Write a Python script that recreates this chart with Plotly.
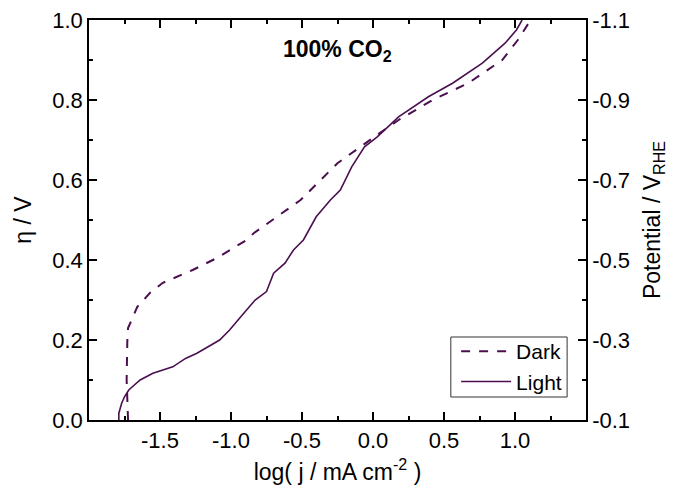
import plotly.graph_objects as go

# Dark (dashed) curve: log j vs overpotential
dark_logj = [-1.725, -1.73, -1.735, -1.73, -1.725, -1.70, -1.66, -1.57, -1.48, -1.27, -1.10, -0.89, -0.84,
             -0.51, -0.25, 0.01, 0.18, 0.42, 0.67, 0.91, 1.02, 1.11]
dark_eta = [0.0, 0.05, 0.1, 0.2, 0.23, 0.25, 0.283, 0.318, 0.343, 0.375, 0.405, 0.45, 0.467,
            0.55, 0.642, 0.708, 0.75, 0.8, 0.842, 0.9, 0.95, 1.0]

# Light (solid) curve
light_logj = [-1.79, -1.79, -1.77, -1.75, -1.72, -1.64, -1.55, -1.41, -1.32, -1.24, -1.08, -1.01,
              -0.91, -0.83, -0.75, -0.70, -0.62, -0.56, -0.49, -0.44, -0.40, -0.30, -0.23,
              -0.15, -0.06, 0.03, 0.18, 0.39, 0.56, 0.77, 0.93, 1.01, 1.05]
light_eta = [0.0, 0.017, 0.042, 0.058, 0.075, 0.1, 0.117, 0.133, 0.154, 0.167, 0.2, 0.225,
             0.267, 0.3, 0.321, 0.367, 0.392, 0.425, 0.45, 0.483, 0.508, 0.55, 0.575,
             0.633, 0.683, 0.708, 0.758, 0.808, 0.842, 0.892, 0.942, 0.975, 1.0]

x_ticks = [-1.5, -1.0, -0.5, 0.0, 0.5, 1.0]
y_ticks = [0.0, 0.2, 0.4, 0.6, 0.8, 1.0]
y2_ticks = [-0.1, -0.3, -0.5, -0.7, -0.9, -1.1]

color = "#4B0F50"
family = "Liberation Sans, Arial, sans-serif"
tick_font = dict(family=family, size=22, color="black")
title_font = dict(family=family, size=23, color="black")

fig = go.Figure()
fig.add_trace(go.Scatter(x=dark_logj, y=dark_eta, mode="lines", name="Dark",
                         line=dict(color=color, width=2, dash="dash")))
fig.add_trace(go.Scatter(x=light_logj, y=light_eta, mode="lines", name="Light",
                         line=dict(color=color, width=1.6)))
fig.add_trace(go.Scatter(x=[None], y=[None], yaxis="y2", showlegend=False, hoverinfo="skip"))

axis_common = dict(showline=True, linecolor="black", linewidth=1.5, ticks="inside",
                   ticklen=8, tickwidth=1.5, tickcolor="black", showgrid=False, zeroline=False,
                   tickfont=tick_font, automargin=False, ticklabeloverflow="allow")

fig.update_layout(
    width=667, height=477,
    margin=dict(l=81, r=89, t=12, b=65),
    paper_bgcolor="white", plot_bgcolor="white",
    font=tick_font,
    xaxis=dict(range=[-2.0, 1.5], tickvals=x_ticks, ticktext=[f"{v:.1f}" for v in x_ticks],
               mirror="ticks",
               minor=dict(ticks="inside", ticklen=4, tickwidth=1.5, tickcolor="black", dtick=0.25, tick0=0),
               title=dict(text="log( j / mA cm<sup>-2</sup> )", font=title_font, standoff=18),
               **axis_common),
    yaxis=dict(range=[0, 1.0], tickvals=y_ticks, ticktext=[f"{v:.1f}" for v in y_ticks],
               minor=dict(ticks="inside", ticklen=4, tickwidth=1.5, tickcolor="black", dtick=0.1, tick0=0),
               title=dict(text="η / V", font=title_font, standoff=14),
               **axis_common),
    yaxis2=dict(range=[-0.1, -1.1], overlaying="y", side="right", anchor="x",
                tickvals=y2_ticks, ticktext=[f"{v:.1f}" for v in y2_ticks],
                minor=dict(ticks="inside", ticklen=4, tickwidth=1.5, tickcolor="black", dtick=0.1, tick0=-0.1),
                title=dict(text="Potential / V<sub>RHE</sub>", font=title_font, standoff=15),
                **axis_common),
    legend=dict(x=0.962, y=0.045, xanchor="right", yanchor="bottom",
                borderwidth=0, bgcolor="rgba(0,0,0,0)",
                font=dict(family=family, size=21, color="black"), tracegroupgap=0, itemwidth=50),
    showlegend=True,
    shapes=[dict(type="rect", xref="paper", yref="paper", x0=0.728, x1=0.962, y0=0.0575, y1=0.2075,
                 line=dict(color="#333333", width=1), fillcolor="rgba(0,0,0,0)", layer="above")],
    annotations=[dict(x=-0.25, y=0.925, xref="x", yref="y",
                      text="<b>100% CO<sub>2</sub></b>", showarrow=False,
                      font=dict(family=family, size=23, color="black"))],
)

fig.write_html("out.html")
